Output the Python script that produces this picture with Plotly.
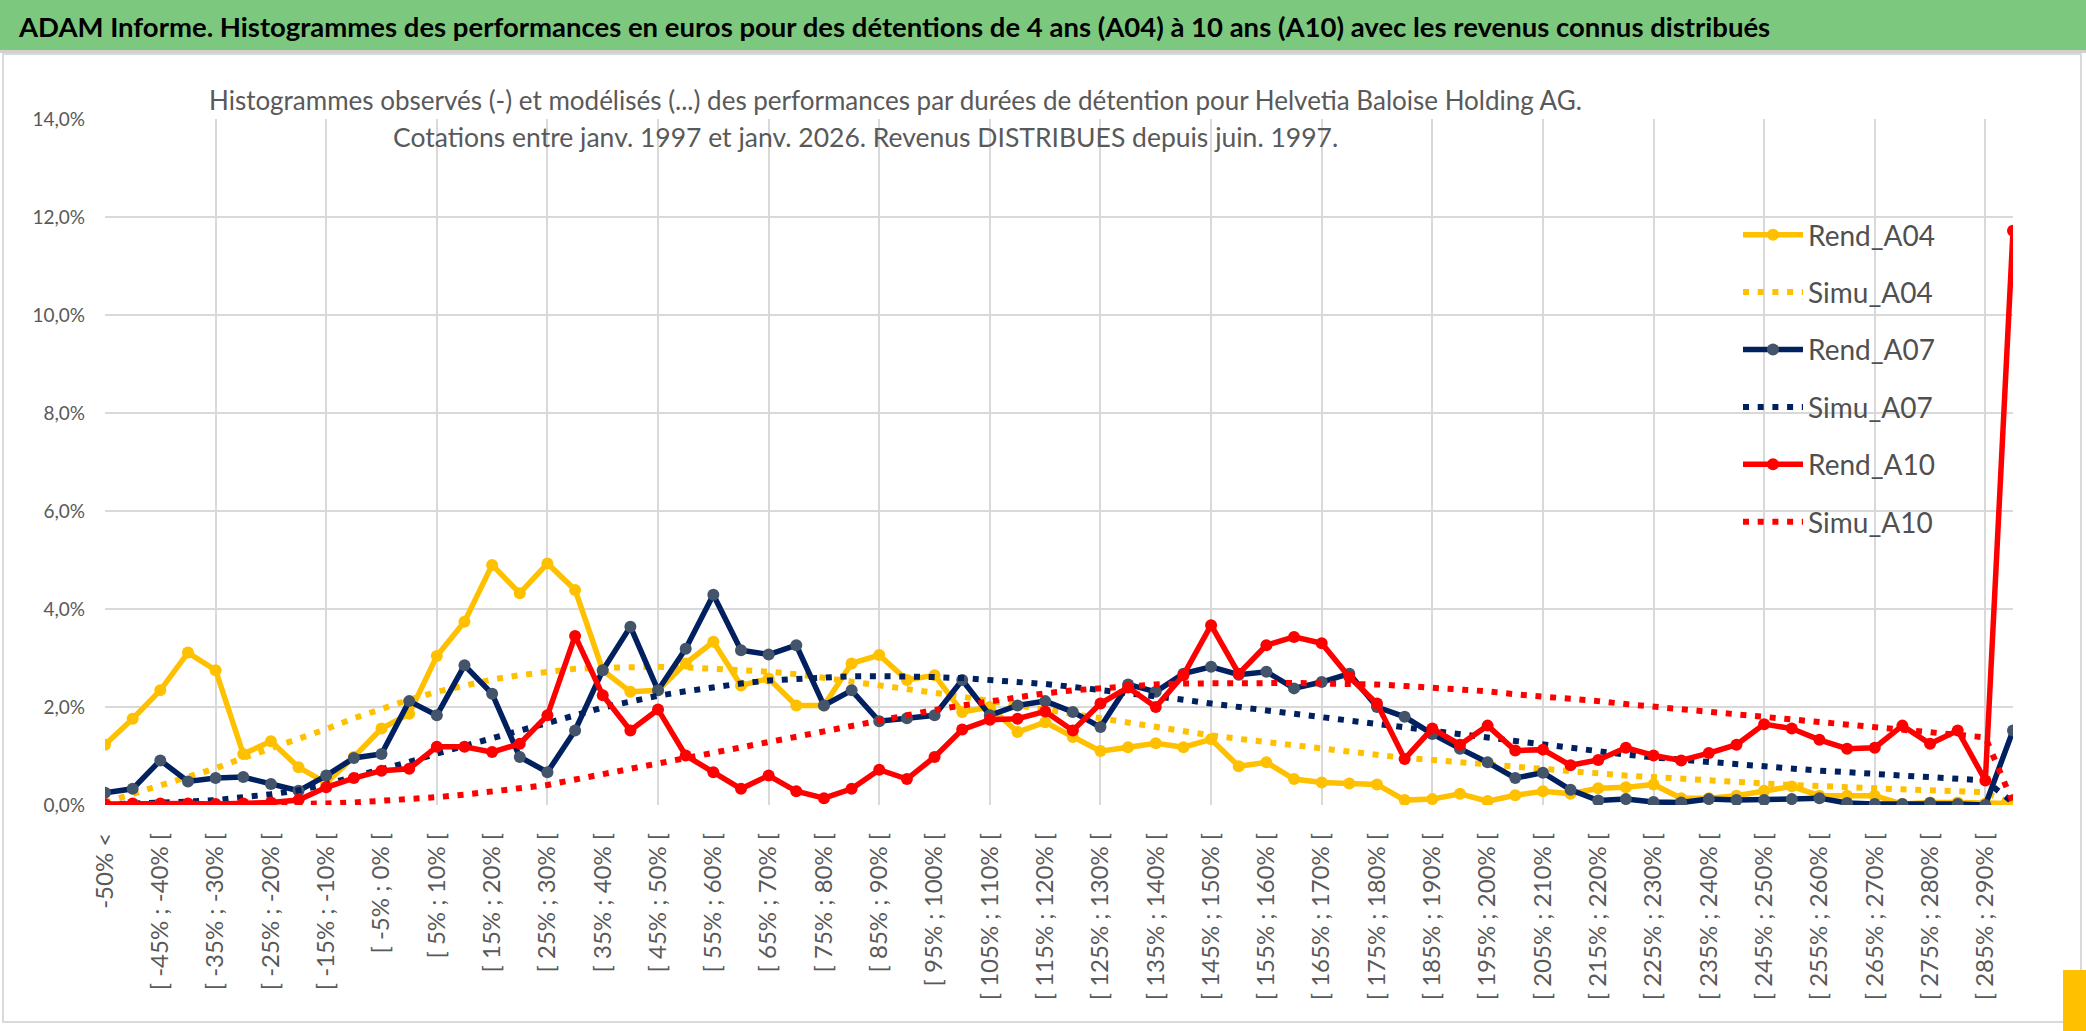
import plotly.graph_objects as go

# ---------------- data ----------------
categories = [
    "-50% <", "[ -50% ; -45% [", "[ -45% ; -40% [", "[ -40% ; -35% [", "[ -35% ; -30% [",
    "[ -30% ; -25% [", "[ -25% ; -20% [", "[ -20% ; -15% [", "[ -15% ; -10% [", "[ -10% ; -5% [",
    "[ -5% ; 0% [", "[ 0% ; 5% [", "[ 5% ; 10% [", "[ 10% ; 15% [", "[ 15% ; 20% [",
    "[ 20% ; 25% [", "[ 25% ; 30% [", "[ 30% ; 35% [", "[ 35% ; 40% [", "[ 40% ; 45% [",
    "[ 45% ; 50% [", "[ 50% ; 55% [", "[ 55% ; 60% [", "[ 60% ; 65% [", "[ 65% ; 70% [",
    "[ 70% ; 75% [", "[ 75% ; 80% [", "[ 80% ; 85% [", "[ 85% ; 90% [", "[ 90% ; 95% [",
    "[ 95% ; 100% [", "[ 100% ; 105% [", "[ 105% ; 110% [", "[ 110% ; 115% [", "[ 115% ; 120% [",
    "[ 120% ; 125% [", "[ 125% ; 130% [", "[ 130% ; 135% [", "[ 135% ; 140% [", "[ 140% ; 145% [",
    "[ 145% ; 150% [", "[ 150% ; 155% [", "[ 155% ; 160% [", "[ 160% ; 165% [", "[ 165% ; 170% [",
    "[ 170% ; 175% [", "[ 175% ; 180% [", "[ 180% ; 185% [", "[ 185% ; 190% [", "[ 190% ; 195% [",
    "[ 195% ; 200% [", "[ 200% ; 205% [", "[ 205% ; 210% [", "[ 210% ; 215% [", "[ 215% ; 220% [",
    "[ 220% ; 225% [", "[ 225% ; 230% [", "[ 230% ; 235% [", "[ 235% ; 240% [", "[ 240% ; 245% [",
    "[ 245% ; 250% [", "[ 250% ; 255% [", "[ 255% ; 260% [", "[ 260% ; 265% [", "[ 265% ; 270% [",
    "[ 270% ; 275% [", "[ 275% ; 280% [", "[ 280% ; 285% [", "[ 285% ; 290% [", "> 290%",
]

rend_a04 = [1.23, 1.76, 2.34, 3.11, 2.75, 1.04, 1.30, 0.77, 0.45, 0.98,
            1.56, 1.86, 3.04, 3.74, 4.90, 4.32, 4.93, 4.39, 2.75, 2.31,
            2.34, 2.89, 3.33, 2.44, 2.58, 2.03, 2.03, 2.89, 3.06, 2.55,
            2.65, 1.90, 2.00, 1.49, 1.69, 1.39, 1.10, 1.18, 1.26, 1.18,
            1.34, 0.79, 0.87, 0.53, 0.46, 0.44, 0.42, 0.10, 0.12, 0.23,
            0.08, 0.20, 0.28, 0.23, 0.34, 0.36, 0.42, 0.14, 0.14, 0.19,
            0.29, 0.38, 0.19, 0.19, 0.19, 0.02, 0.05, 0.05, 0.03, 0.03]

simu_a04 = [0.05, 0.22, 0.39, 0.56, 0.75, 0.96, 1.15, 1.36, 1.55, 1.77,
            1.97, 2.15, 2.31, 2.45, 2.56, 2.65, 2.72, 2.78, 2.80, 2.82,
            2.82, 2.81, 2.79, 2.76, 2.72, 2.67, 2.60, 2.53, 2.45, 2.37,
            2.29, 2.21, 2.12, 2.03, 1.94, 1.85, 1.76, 1.67, 1.58, 1.50,
            1.42, 1.35, 1.28, 1.21, 1.14, 1.08, 1.02, 0.96, 0.92, 0.87,
            0.82, 0.78, 0.74, 0.69, 0.64, 0.60, 0.57, 0.53, 0.50, 0.47,
            0.44, 0.41, 0.38, 0.35, 0.34, 0.32, 0.30, 0.28, 0.26, 0.02]

rend_a07 = [0.25, 0.33, 0.91, 0.48, 0.55, 0.57, 0.43, 0.29, 0.60, 0.96,
            1.04, 2.12, 1.83, 2.85, 2.27, 0.98, 0.67, 1.52, 2.75, 3.64,
            2.34, 3.19, 4.29, 3.16, 3.07, 3.26, 2.03, 2.34, 1.71, 1.77,
            1.83, 2.55, 1.83, 2.03, 2.12, 1.90, 1.59, 2.46, 2.31, 2.68,
            2.82, 2.66, 2.72, 2.38, 2.51, 2.68, 2.00, 1.80, 1.45, 1.15,
            0.87, 0.55, 0.66, 0.31, 0.09, 0.12, 0.06, 0.05, 0.12, 0.10,
            0.10, 0.12, 0.14, 0.04, 0.02, 0.02, 0.04, 0.02, 0.00, 1.52]

simu_a07 = [0.01, 0.02, 0.04, 0.07, 0.10, 0.15, 0.22, 0.30, 0.42, 0.58,
            0.72, 0.88, 1.05, 1.20, 1.35, 1.52, 1.68, 1.83, 1.99, 2.12,
            2.23, 2.32, 2.41, 2.48, 2.54, 2.58, 2.61, 2.63, 2.63, 2.63,
            2.61, 2.59, 2.56, 2.52, 2.47, 2.41, 2.35, 2.29, 2.23, 2.15,
            2.07, 2.00, 1.94, 1.86, 1.78, 1.70, 1.64, 1.57, 1.50, 1.43,
            1.35, 1.29, 1.22, 1.15, 1.09, 1.03, 0.97, 0.92, 0.88, 0.84,
            0.80, 0.74, 0.70, 0.67, 0.65, 0.60, 0.57, 0.53, 0.50, 0.05]

rend_a10 = [0.02, 0.03, 0.03, 0.03, 0.02, 0.03, 0.05, 0.10, 0.36, 0.55,
            0.70, 0.74, 1.19, 1.19, 1.08, 1.25, 1.83, 3.45, 2.24, 1.52,
            1.95, 1.01, 0.67, 0.33, 0.60, 0.28, 0.14, 0.33, 0.72, 0.53,
            0.98, 1.54, 1.74, 1.76, 1.91, 1.52, 2.07, 2.40, 2.00, 2.65,
            3.67, 2.68, 3.26, 3.43, 3.30, 2.61, 2.07, 0.94, 1.56, 1.23,
            1.62, 1.11, 1.13, 0.81, 0.92, 1.17, 1.01, 0.91, 1.06, 1.23,
            1.65, 1.56, 1.33, 1.15, 1.17, 1.62, 1.25, 1.52, 0.50, 11.72]

simu_a10 = [0.00, 0.00, 0.00, 0.00, 0.01, 0.01, 0.01, 0.02, 0.03, 0.05,
            0.08, 0.12, 0.16, 0.21, 0.27, 0.33, 0.41, 0.52, 0.63, 0.73,
            0.84, 0.95, 1.06, 1.18, 1.31, 1.41, 1.52, 1.63, 1.73, 1.84,
            1.94, 2.03, 2.12, 2.20, 2.28, 2.34, 2.39, 2.44, 2.46, 2.48,
            2.49, 2.49, 2.49, 2.49, 2.48, 2.48, 2.46, 2.43, 2.40, 2.36,
            2.32, 2.26, 2.22, 2.17, 2.12, 2.06, 2.01, 1.96, 1.91, 1.86,
            1.80, 1.76, 1.70, 1.64, 1.59, 1.54, 1.49, 1.43, 1.38, 0.05]

y_ticks = [0, 2, 4, 6, 8, 10, 12, 14]

title_text = ("ADAM Informe. Histogrammes des performances en euros pour des détentions "
              "de 4 ans (A04) à 10 ans (A10) avec les revenus connus distribués")
subtitle_1 = ("Histogrammes observés (-) et modélisés (...) des performances par durées "
              "de détention pour Helvetia Baloise Holding AG.")
subtitle_2 = "Cotations entre janv. 1997 et janv. 2026. Revenus DISTRIBUES depuis juin. 1997."

# ---------------- layout geometry (pixels) ----------------
W, H = 2086, 1031
L, R, T, B = 105, 2013, 119, 805
FONT = "Lato, 'Open Sans', sans-serif"
GRAY = "#595959"
GRID = "#D9D9D9"


def px_x(p):
    return (p - L) / (R - L)


def px_y(p):
    return (B - p) / (B - T)


idx = list(range(len(categories)))

series = [
    ("Rend_A04", rend_a04, "#FFC000", "solid", "#FFC000"),
    ("Simu_A04", simu_a04, "#FFC000", "dot", None),
    ("Rend_A07", rend_a07, "#002060", "solid", "#44546A"),
    ("Simu_A07", simu_a07, "#002060", "dot", None),
    ("Rend_A10", rend_a10, "#FF0000", "solid", "#FF0000"),
    ("Simu_A10", simu_a10, "#FF0000", "dot", None),
]

fig = go.Figure()
for name, vals, col, kind, mcol in series:
    if kind == "solid":
        fig.add_trace(go.Scatter(
            x=idx, y=vals, name=name, mode="lines+markers",
            line=dict(color=col, width=5.5),
            marker=dict(color=mcol, size=12, line=dict(width=0)),
            legendgroup=name, hoverinfo="skip",
        ))
    else:
        fig.add_trace(go.Scatter(
            x=idx, y=vals, name=name, mode="lines",
            line=dict(color=col, width=6, dash="6px,8.7px"),
            legendgroup=name, hoverinfo="skip",
        ))

# invisible trace carrying the gridline axis
fig.add_trace(go.Scatter(x=[0], y=[0], xaxis="x2", mode="markers",
                         marker=dict(opacity=0), showlegend=False, hoverinfo="skip"))

shapes = [
    # title band
    dict(type="rect", xref="paper", yref="paper", x0=px_x(0), x1=px_x(W), y0=px_y(0), y1=px_y(50),
         fillcolor="#7DC87F", line=dict(width=0), layer="above"),
    dict(type="line", xref="paper", yref="paper", x0=px_x(0), x1=px_x(W), y0=px_y(51.5), y1=px_y(51.5),
         line=dict(color="#D0D0D0", width=3), layer="above"),
    # chart border
    dict(type="rect", xref="paper", yref="paper", x0=px_x(3), x1=px_x(2081), y0=px_y(1022), y1=px_y(54),
         line=dict(color="#D9D9D9", width=2), fillcolor="rgba(0,0,0,0)", layer="below"),
    # yellow corner
    dict(type="rect", xref="paper", yref="paper", x0=px_x(2063), x1=px_x(W), y0=px_y(W), y1=px_y(970),
         fillcolor="#FFC000", line=dict(width=0), layer="below"),
    # white box behind subtitle
    dict(type="rect", xref="paper", yref="paper", x0=px_x(200), x1=px_x(1588), y0=px_y(158), y1=px_y(80),
         fillcolor="white", line=dict(width=0), layer="between"),
    # white box behind legend
    dict(type="rect", xref="paper", yref="paper", x0=px_x(1736), x1=px_x(1988), y0=px_y(548), y1=px_y(203),
         fillcolor="white", line=dict(width=0), layer="between"),
]

annotations = [
    dict(text=title_text, x=px_x(16), y=px_y(27), xref="paper", yref="paper",
         xanchor="left", yanchor="middle", showarrow=False,
         font=dict(family=FONT, size=27.5, color="black", weight="bold")),
    dict(text=subtitle_1, x=px_x(895), y=px_y(100), xref="paper", yref="paper",
         xanchor="center", yanchor="middle", showarrow=False,
         font=dict(family=FONT, size=26, color=GRAY)),
    dict(text=subtitle_2, x=px_x(865), y=px_y(137), xref="paper", yref="paper",
         xanchor="center", yanchor="middle", showarrow=False,
         font=dict(family=FONT, size=26.5, color=GRAY)),
]

fig.update_layout(
    width=W, height=H,
    margin=dict(l=L, r=W - R, t=T, b=H - B, autoexpand=False),
    paper_bgcolor="white", plot_bgcolor="white",
    font=dict(family=FONT, color=GRAY),
    showlegend=True,
    legend=dict(x=px_x(1738), y=px_y(210), xanchor="left", yanchor="top",
                bgcolor="rgba(0,0,0,0)", font=dict(family=FONT, size=28, color="#505050"),
                traceorder="grouped", tracegroupgap=18, itemwidth=60),
    xaxis=dict(range=[0, 69], tickmode="array", tickvals=idx[::2], ticktext=categories[::2],
               tickangle=-90, showgrid=False, zeroline=False, showline=False,
               tickfont=dict(family=FONT, size=24, color=GRAY), ticks="", ticklabelstandoff=22),
    xaxis2=dict(range=[0, 69], overlaying="x", tickmode="array", tickvals=idx[::4],
                showgrid=True, gridcolor=GRID, gridwidth=2, showticklabels=False,
                zeroline=False, showline=False, ticks=""),
    yaxis=dict(range=[0, 14], tickmode="array", tickvals=y_ticks,
               ticktext=[f"{v:.1f}".replace(".", ",") + "%" for v in y_ticks],
               showgrid=True, gridcolor=GRID, gridwidth=2, zeroline=False, showline=False,
               tickfont=dict(family=FONT, size=19, color=GRAY), ticks="", ticklabelstandoff=19),
    shapes=shapes,
    annotations=annotations,
)

fig.write_html("out.html", config={"displayModeBar": False})
with open("out.html", "r", encoding="utf-8") as f:
    html = f.read()
html = html.replace("<head>", "<head><style>html,body{margin:0;padding:0;overflow:hidden;}</style>", 1)
with open("out.html", "w", encoding="utf-8") as f:
    f.write(html)
